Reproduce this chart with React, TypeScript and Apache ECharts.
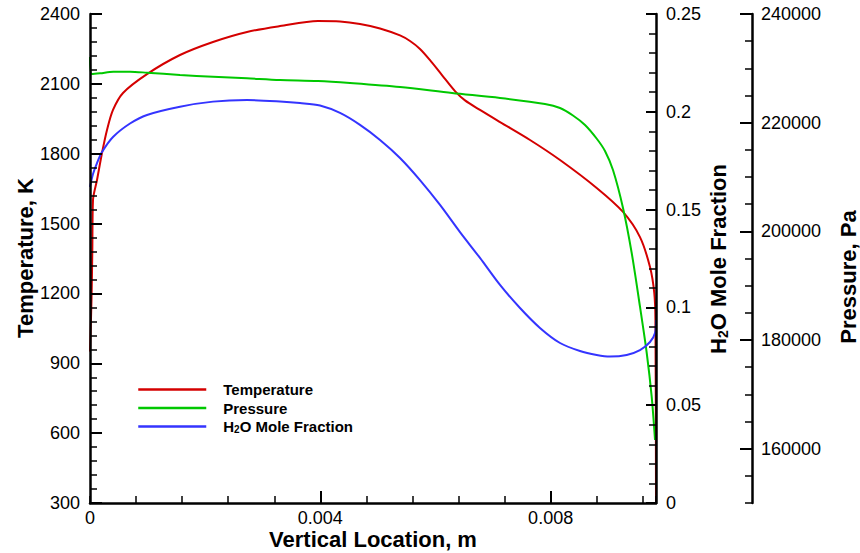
import React, { useEffect, useRef } from 'react';
import * as echarts from 'echarts';

// ---------- data ----------
const xMax = 0.00983;
const xLabelValues = [0, 0.004, 0.008];
const xMajorTicks = [0.004, 0.008];
const pressureLabelValues = [160000, 180000, 200000, 220000, 240000];

const temperature: [number, number][] = [
  [0, 950], [0.000026, 1172], [0.00004, 1378], [0.0000521, 1601], [0.0001216, 1687],
  [0.0002084, 1803], [0.0002952, 1902], [0.0003995, 1988], [0.0005731, 2061], [0.00099, 2142],
  [0.001563, 2224], [0.002136, 2280], [0.002727, 2323], [0.0033, 2348], [0.00396, 2370],
  [0.004342, 2368], [0.004689, 2357], [0.005037, 2338], [0.005384, 2308], [0.005558, 2284],
  [0.005731, 2250], [0.005905, 2202], [0.006113, 2138], [0.006339, 2069], [0.006513, 2029],
  [0.006773, 1988], [0.007121, 1936], [0.007642, 1859], [0.008163, 1773], [0.0088, 1653],
  [0.009257, 1550], [0.009552, 1442], [0.009726, 1313], [0.0098, 1202], [0.00982, 1086],
  [0.00983, 300],
];

const pressure: [number, number][] = [
  [0, 232086], [0.00003, 228957], [0.0001737, 229086], [0.0004047, 229380], [0.0006947, 229380],
  [0.00099, 229196], [0.001563, 228773], [0.002136, 228460], [0.002727, 228166], [0.0033, 227853],
  [0.00396, 227669], [0.004516, 227300], [0.005384, 226564], [0.006287, 225460], [0.007121, 224540],
  [0.007902, 223436], [0.008163, 222699], [0.008388, 221319], [0.008597, 219570], [0.008805, 216994],
  [0.008944, 214785], [0.009083, 211288], [0.009257, 204294], [0.009408, 196012], [0.009552, 186128],
  [0.009669, 177607], [0.009755, 169564], [0.009813, 161595],
];

const h2o: [number, number][] = [
  [0, 0.1616], [0.0000521, 0.1682], [0.0001216, 0.1738], [0.0002084, 0.1794], [0.0003995, 0.1871],
  [0.0006947, 0.194], [0.00099, 0.1984], [0.001563, 0.2026], [0.002136, 0.2052], [0.002727, 0.206],
  [0.0033, 0.2053], [0.003647, 0.2045], [0.003995, 0.2032], [0.004342, 0.1994], [0.004689, 0.1933],
  [0.005037, 0.1856], [0.005384, 0.1764], [0.005731, 0.1651], [0.006079, 0.1524], [0.006426, 0.1385],
  [0.006773, 0.1253], [0.007121, 0.1115], [0.007468, 0.0997], [0.007815, 0.0895], [0.008163, 0.0818],
  [0.00851, 0.0777], [0.0088, 0.0757], [0.009031, 0.0749], [0.009321, 0.0757], [0.009552, 0.0782],
  [0.009726, 0.0823], [0.009813, 0.0869], [0.00983, 0.0936],
];

const FONT = "'Liberation Sans', Arial, Helvetica, sans-serif";
const BLACK = '#000';

export default function App() {
  const ref = useRef<HTMLDivElement>(null);

  useEffect(() => {
    document.body.style.margin = '0';
    if (!ref.current) return;
    const chart = echarts.init(ref.current, undefined, { renderer: 'svg' });

    const axisLine = { show: true, onZero: false, lineStyle: { color: BLACK, width: 2.5 } };
    const label = { fontSize: 18, lineHeight: 18, color: BLACK, fontFamily: FONT, formatter: (v: number) => String(v) };
    const minor = (len: number, n: number) => ({
      show: true, splitNumber: n, length: len, lineStyle: { color: BLACK, width: 1.5 },
    });

    const option: any = {
      animation: false,
      backgroundColor: '#fff',
      grid: { left: 90, top: 14, width: 566, height: 489, containLabel: false },
      xAxis: [
        {
          type: 'value', min: 0, max: xMax, interval: 0.0008, position: 'bottom',
          axisLine, splitLine: { show: false },
          axisTick: { show: true, inside: true, length: 7, lineStyle: { color: BLACK, width: 1.5 } },
          axisLabel: { ...label, margin: 6, customValues: xLabelValues },
          z: 5,
        },
        {
          type: 'value', min: 0, max: xMax, position: 'bottom',
          axisLine: { show: false, onZero: false }, splitLine: { show: false },
          axisTick: { show: true, inside: true, length: 12, customValues: xMajorTicks, lineStyle: { color: BLACK, width: 2 } },
          axisLabel: { show: false },
          z: 5,
        },
      ],
      yAxis: [
        {
          type: 'value', min: 300, max: 2400, interval: 300, position: 'left',
          axisLine, splitLine: { show: false },
          axisTick: { show: true, inside: true, length: 12, lineStyle: { color: BLACK, width: 2 } },
          minorTick: minor(7, 5),
          axisLabel: { ...label, margin: 10 },
          z: 5,
        },
        {
          type: 'value', min: 0, max: 0.25, interval: 0.05, position: 'right',
          axisLine, splitLine: { show: false },
          axisTick: { show: true, inside: true, length: 10, lineStyle: { color: BLACK, width: 2 } },
          minorTick: minor(7, 5),
          axisLabel: { ...label, margin: 10 },
          z: 5,
        },
        {
          type: 'value', min: 150000, max: 240000, interval: 5000, position: 'right', offset: 96,
          axisLine, splitLine: { show: false },
          axisTick: { show: true, inside: true, length: 7, lineStyle: { color: BLACK, width: 1.5 } },
          axisLabel: { ...label, margin: 9, customValues: pressureLabelValues },
          z: 5,
        },
        {
          type: 'value', min: 150000, max: 240000, position: 'right', offset: 96,
          axisLine: { show: false, onZero: false }, splitLine: { show: false },
          axisTick: { show: true, inside: true, length: 12, customValues: pressureLabelValues, lineStyle: { color: BLACK, width: 2 } },
          axisLabel: { show: false },
          z: 5,
        },
      ],
      legend: {
        orient: 'vertical', left: 132, top: 377, itemWidth: 68, itemHeight: 14, itemGap: 3.5,
        data: ['Temperature', 'Pressure', 'H2O Mole Fraction'],
        itemStyle: { opacity: 0 },
        lineStyle: { width: 2.5 },
        formatter: (name: string) =>
          name === 'H2O Mole Fraction' ? '{h|H}{s|2}{b|O Mole Fraction}' : '{h|' + name + '}',
        textStyle: {
          rich: {
            h: { fontSize: 15, fontWeight: 'bold', fontFamily: FONT, color: BLACK, lineHeight: 16, padding: [0, 0, 0, 12] },
            b: { fontSize: 15, fontWeight: 'bold', fontFamily: FONT, color: BLACK, lineHeight: 16 },
            s: { fontSize: 10, fontWeight: 'bold', fontFamily: FONT, color: BLACK, lineHeight: 8, verticalAlign: 'bottom' },
          },
        },
      },
      graphic: [
        {
          type: 'text', x: 373, y: 539,
          style: { text: 'Vertical Location, m', fontSize: 22, lineHeight: 18, fontWeight: 'bold', fontFamily: FONT, fill: BLACK, align: 'center', verticalAlign: 'middle' },
        },
        {
          type: 'text', x: 25, y: 258, rotation: Math.PI / 2,
          style: { text: 'Temperature, K', fontSize: 22, fontWeight: 'bold', fontFamily: FONT, fill: BLACK, align: 'center', verticalAlign: 'middle' },
        },
        {
          type: 'text', x: 718, y: 259, rotation: Math.PI / 2,
          style: {
            text: '{n|H}{s|2}{n|O Mole Fraction}', align: 'center', verticalAlign: 'middle',
            rich: {
              n: { fontSize: 22, fontWeight: 'bold', fontFamily: FONT, fill: BLACK, lineHeight: 24 },
              s: { fontSize: 14, fontWeight: 'bold', fontFamily: FONT, fill: BLACK, lineHeight: 10, verticalAlign: 'bottom' },
            },
          },
        },
        {
          type: 'text', x: 848, y: 277, rotation: Math.PI / 2,
          style: { text: 'Pressure, Pa', fontSize: 22, fontWeight: 'bold', fontFamily: FONT, fill: BLACK, align: 'center', verticalAlign: 'middle' },
        },
      ],
      series: [
        {
          name: 'Temperature', type: 'line', xAxisIndex: 0, yAxisIndex: 0, data: temperature,
          symbol: 'none', smooth: 0.3,
          lineStyle: { color: '#d40000', width: 2 }, itemStyle: { color: '#d40000' },
        },
        {
          name: 'Pressure', type: 'line', xAxisIndex: 0, yAxisIndex: 2, data: pressure,
          symbol: 'none', smooth: 0.3,
          lineStyle: { color: '#00c800', width: 2 }, itemStyle: { color: '#00c800' },
        },
        {
          name: 'H2O Mole Fraction', type: 'line', xAxisIndex: 0, yAxisIndex: 1, data: h2o,
          symbol: 'none', smooth: 0.3,
          lineStyle: { color: '#3434ff', width: 2 }, itemStyle: { color: '#3434ff' },
        },
      ],
    };

    chart.setOption(option);
    return () => chart.dispose();
  }, []);

  return <div ref={ref} style={{ width: 860, height: 553 }} />;
}
